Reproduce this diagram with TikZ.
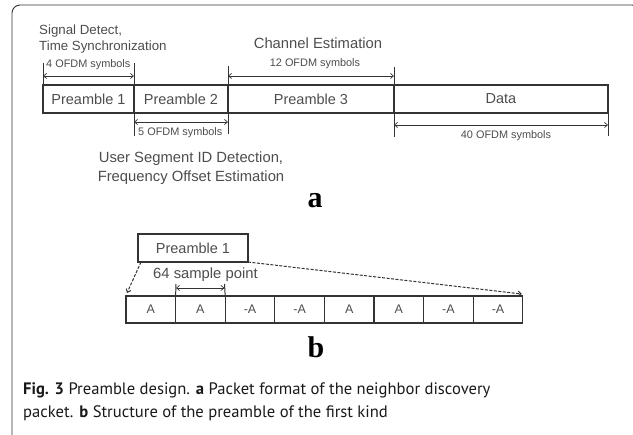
\documentclass[tikz,border=0pt]{standalone}
\usepackage{fontspec}
\setmainfont{Liberation Sans}
\newfontfamily\capfont{PT Sans}
\newfontfamily\serifbold{Liberation Serif}
\usetikzlibrary{arrows.meta,calc}
\definecolor{txt}{HTML}{4D4D4D}
\definecolor{ln}{HTML}{333333}
\begin{document}
\begin{tikzpicture}[x=1pt,y=-1pt,
  box/.style={draw=ln,line width=1.6pt,inner sep=0pt,outer sep=0pt,minimum height=28pt,anchor=north west,text=txt,font=\fontsize{14.5}{16}\selectfont},
  cell/.style={draw=ln,line width=1.3pt,inner sep=0pt,outer sep=0pt,minimum height=27pt,minimum width=49.6pt,anchor=north west,text=txt,font=\fontsize{12.5}{14}\selectfont},
  tick/.style={draw=ln,line width=1pt},
  dim/.style={draw=ln,line width=0.7pt,{Straight Barb[length=3pt,width=5pt]}-{Straight Barb[length=3pt,width=5pt]}},
  small/.style={text=txt,font=\fontsize{10.9}{12}\selectfont,inner sep=0pt},
  lbl/.style={text=txt,font=\fontsize{14.8}{19}\selectfont,inner sep=0pt},
  dsh/.style={draw=ln,line width=1pt,dash pattern=on 3pt off 1.5pt,-{Straight Barb[length=3pt,width=5pt]}},
  big/.style={font=\serifbold\bfseries\fontsize{30}{30}\selectfont,text=black,inner sep=0pt},
]
\useasboundingbox (0,0) rectangle (633,435);
\clip (0,0) rectangle (633,435);
% frame
\draw[ln,line width=0.9pt,rounded corners=8pt] (12,440) -- (12,5) -- (640,5) -- (640,40);

% --- part a
\node[box,minimum width=91pt] (p1) at (43,85) {Preamble 1};
\node[box,minimum width=94pt] (p2) at (134,85) {Preamble 2};
\node[box,minimum width=166pt] (p3) at (228,85) {Preamble 3};
\node[box,minimum width=214pt] (dt) at (394,85) {Data};

\coordinate (t1) at (43,63);
\coordinate (t2) at (134,63);
\coordinate (t2b) at (134,136);
\coordinate (t3) at (228,66);
\coordinate (t3b) at (228,134);
\coordinate (t4) at (394,67);
\coordinate (t4b) at (394,137);
\coordinate (t5b) at (608,136);
\draw[tick] (t1) -- (p1.north west);
\draw[tick] (t2) -- (t2b);
\draw[tick] (t3) -- (t3b);
\draw[tick] (t4) -- (t4b);
\draw[tick] (dt.north east) -- (t5b);

\draw[dim] (43,76) -- (134,76);
\draw[dim] (228,76) -- (394,76);
\draw[dim] (134,122) -- (228,122);
\draw[dim] (394,125) -- (608,125);

\node[small,anchor=base west] (l4) at (46,68) {4 OFDM symbols};
\node[small,anchor=base] (l12) at (315,67) {12 OFDM symbols};
\node[small,anchor=base west] (l5) at (138,136) {5 OFDM symbols};
\node[small,anchor=base] (l40) at (506,139) {40 OFDM symbols};

\node[lbl,font=\fontsize{13.3}{16.5}\selectfont,align=left,anchor=base west] (sig) at (39,50.7) {Signal Detect,\\Time Synchronization};
\node[lbl,anchor=base] (ch) at (318,49) {Channel Estimation};
\node[lbl,align=center,anchor=base] (us) at (191,181.7) {User Segment ID Detection,\\Frequency Offset Estimation};

\node[big,anchor=base] (la) at (315,208) {a};

% --- part b
\node[box,minimum width=110pt] (pb) at (138,234) {Preamble 1};
\node[cell] (c1) at (126,296) {A};
\node[cell] (c2) at (c1.north east) {A};
\node[cell] (c3) at (c2.north east) {-A};
\node[cell] (c4) at (c3.north east) {-A};
\node[cell] (c5) at (c4.north east) {A};
\node[cell] (c6) at (c5.north east) {A};
\node[cell] (c7) at (c6.north east) {-A};
\node[cell] (c8) at (c7.north east) {-A};

\coordinate (s1) at (176,284);
\coordinate (s2) at (224.5,284);
\draw[tick] (s1) -- (c2.north west);
\draw[tick] (s2) -- (c3.north west);
\draw[dim] (176,288) -- (224.5,288);
\node[lbl,anchor=base west] (sp) at (153,279) {64 sample point};

\draw[dsh] ($(pb.south west)+(3,0)$) -- ($(c1.north west)+(1,-3)$);
\draw[dsh] (pb.south east) -- ($(c8.north east)+(-1,-2)$);

\node[big,anchor=base] (lb) at (316,358) {b};

% caption
\node[inner sep=0pt,anchor=base west,align=left,font=\capfont\fontsize{16.6}{23.5}\selectfont,text=black!90] (cap) at (23,418)
  {\textbf{Fig. 3} Preamble design. \textbf{a} Packet format of the neighbor discovery\\packet. \textbf{b} Structure of the preamble of the first kind};
\end{tikzpicture}
\end{document}
